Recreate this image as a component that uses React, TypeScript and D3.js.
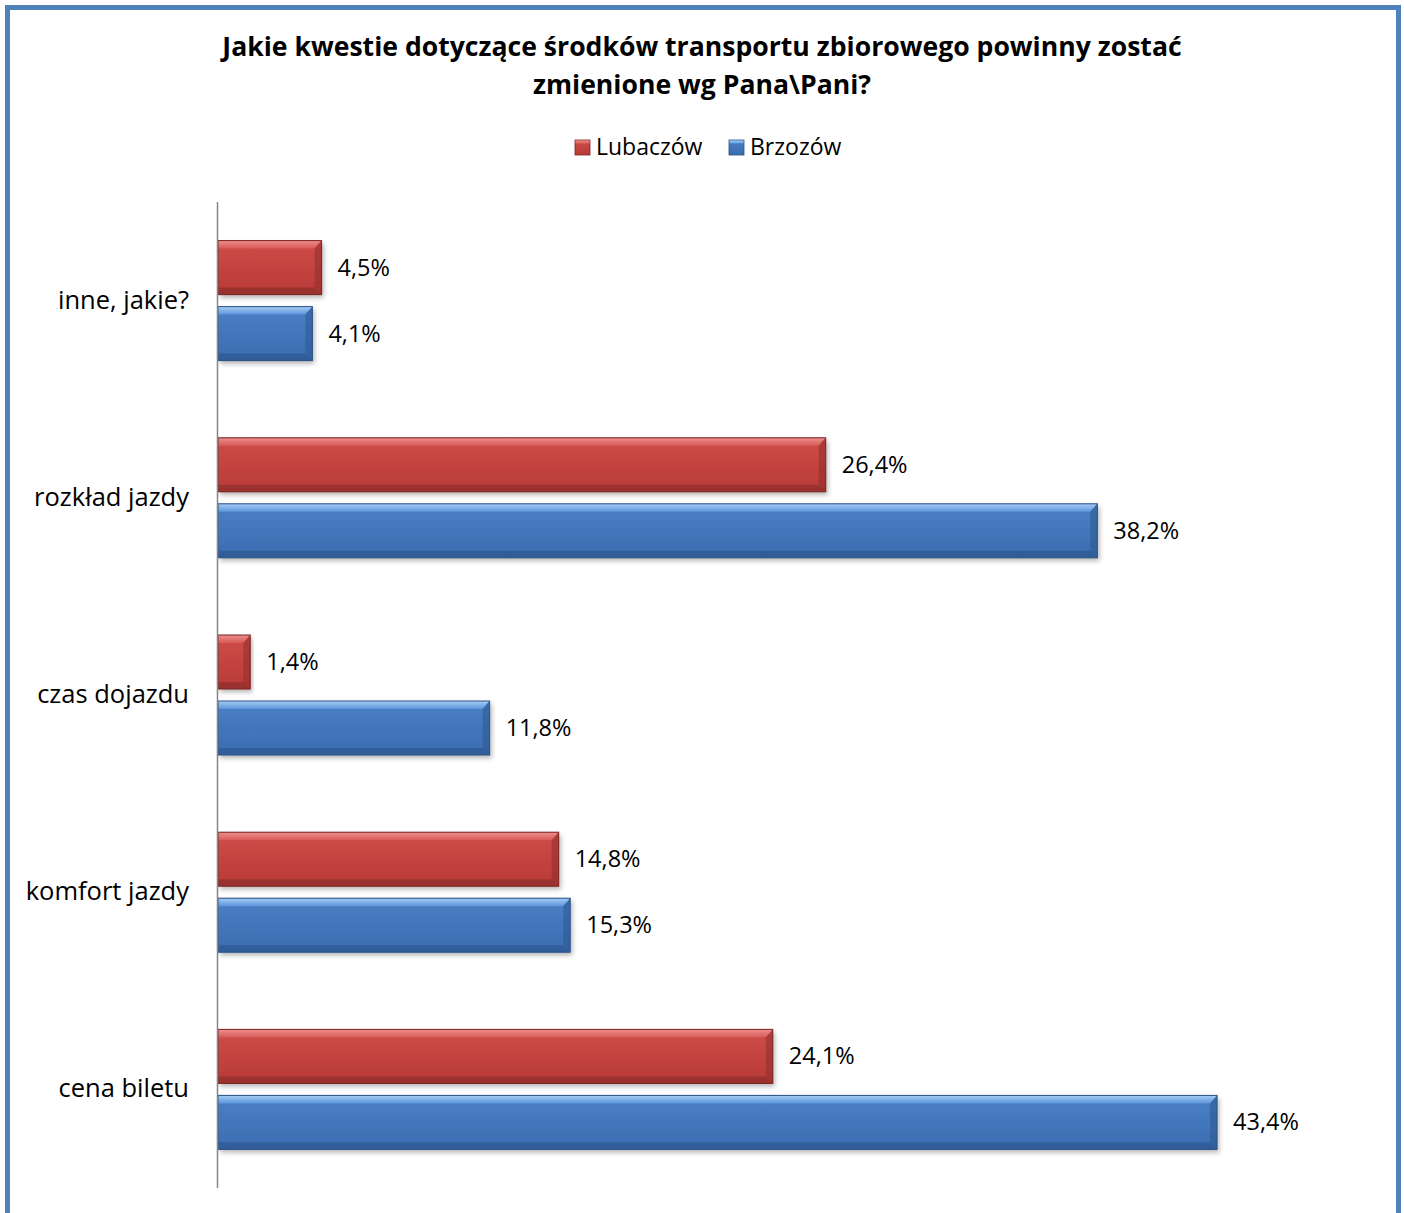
import React from "react";
import * as d3 from "d3";

const categories = ["inne, jakie?", "rozkład jazdy", "czas dojazdu", "komfort jazdy", "cena biletu"];
const seriesNames = ["Lubaczów", "Brzozów"];
const lubaczow = [4.5, 26.4, 1.4, 14.8, 24.1];
const brzozow = [4.1, 38.2, 11.8, 15.3, 43.4];
const titleLines = ["Jakie kwestie dotyczące środków transportu zbiorowego powinny zostać", "zmienione wg Pana\\Pani?"];

const W = 1404, H = 1213;
const FONT = "'Open Sans', sans-serif";

export default function App() {
  const x = d3.scaleLinear().domain([0, 45]).range([218, 218 + 45 * 23.02]);
  const y = d3.scaleBand<string>().domain(categories).range([202, 1188]);
  const fmt = (v: number) => v.toFixed(1).replace(".", ",") + "%";
  const series = [
    { name: seriesNames[0], values: lubaczow, grad: "gRed", top: "gRedTop", stroke: "#7a2422", dark: "#8f2d2b", off: -60 },
    { name: seriesNames[1], values: brzozow, grad: "gBlue", top: "gBlueTop", stroke: "#2a5285", dark: "#2c578f", off: 6 },
  ];
  const bh = 54;
  return (
    <svg width={W} height={H} style={{ display: "block", position: "absolute", left: 0, top: 0 }}>
      <defs>
        <linearGradient id="gRed" x1="0" y1="0" x2="0" y2="1">
          <stop offset="0" stopColor="#cf4d49" />
          <stop offset="1" stopColor="#b83a37" />
        </linearGradient>
        <linearGradient id="gRedTop" x1="0" y1="0" x2="0" y2="1">
          <stop offset="0" stopColor="#ec8f8c" />
          <stop offset="1" stopColor="#d85a56" />
        </linearGradient>
        <linearGradient id="gBlue" x1="0" y1="0" x2="0" y2="1">
          <stop offset="0" stopColor="#4a80c6" />
          <stop offset="1" stopColor="#3b6cb0" />
        </linearGradient>
        <linearGradient id="gBlueTop" x1="0" y1="0" x2="0" y2="1">
          <stop offset="0" stopColor="#a6cdf5" />
          <stop offset="1" stopColor="#5c95da" />
        </linearGradient>
        <filter id="shadow" x="-5%" y="-20%" width="115%" height="160%">
          <feDropShadow dx="2" dy="3" stdDeviation="2.5" floodColor="#000" floodOpacity="0.3" />
        </filter>
      </defs>
      <rect x={0} y={0} width={W} height={H} fill="#fff" />
      <rect x={7.5} y={7.5} width={1391} height={1220} fill="none" stroke="#4f81bd" strokeWidth={5} />
      {titleLines.map((t, i) => (
        <text key={i} x={702} y={56 + i * 38} textAnchor="middle" fontFamily={FONT} fontWeight="bold" fontSize={26.6} fill="#000">{t}</text>
      ))}
      {series.map((s, i) => {
        const lx = [575, 729][i];
        return (
          <g key={s.name}>
            <rect x={lx} y={140} width={15} height={15} fill={`url(#${s.grad})`} stroke={s.stroke} strokeWidth={0.8} />
            <rect x={lx + 0.5} y={140.5} width={14} height={3} fill={`url(#${s.top})`} />
            <text x={lx + 21} y={155} fontFamily={FONT} fontSize={23} fill="#000">{s.name}</text>
          </g>
        );
      })}
      {categories.map((c, ci) => {
        const cy = (y(c) as number) + y.bandwidth() / 2;
        return (
          <g key={c}>
            <text x={189} y={cy + 8} textAnchor="end" fontFamily={FONT} fontSize={25.5} fill="#000">{c}</text>
            {series.map((s) => {
              const v = s.values[ci];
              const x0 = x(0), x1 = x(v);
              const by = cy + s.off;
              const w = x1 - x0;
              const bt = Math.min(8, w / 3);
              const bs = Math.min(7, w / 4);
              return (
                <g key={s.name}>
                  <rect x={x0} y={by} width={w} height={bh} fill={`url(#${s.grad})`} filter="url(#shadow)" />
                  <polygon points={`${x0},${by} ${x1},${by} ${x1 - bs},${by + bt} ${x0},${by + bt}`} fill={`url(#${s.top})`} />
                  <polygon points={`${x1},${by} ${x1},${by + bh} ${x1 - bs},${by + bh - bs} ${x1 - bs},${by + bt}`} fill={s.dark} opacity={0.55} />
                  <polygon points={`${x0},${by + bh} ${x1},${by + bh} ${x1 - bs},${by + bh - bs} ${x0},${by + bh - bs}`} fill={s.dark} opacity={0.7} />
                  <rect x={x0} y={by} width={w} height={bh} fill="none" stroke={s.stroke} strokeWidth={1} />
                  <text x={x1 + 16} y={cy + s.off + bh / 2 + 8} fontFamily={FONT} fontSize={23.5} fill="#000">{fmt(v)}</text>
                </g>
              );
            })}
          </g>
        );
      })}
      <line x1={217.5} x2={217.5} y1={202} y2={1188} stroke="#868686" strokeWidth={1.5} />
    </svg>
  );
}
